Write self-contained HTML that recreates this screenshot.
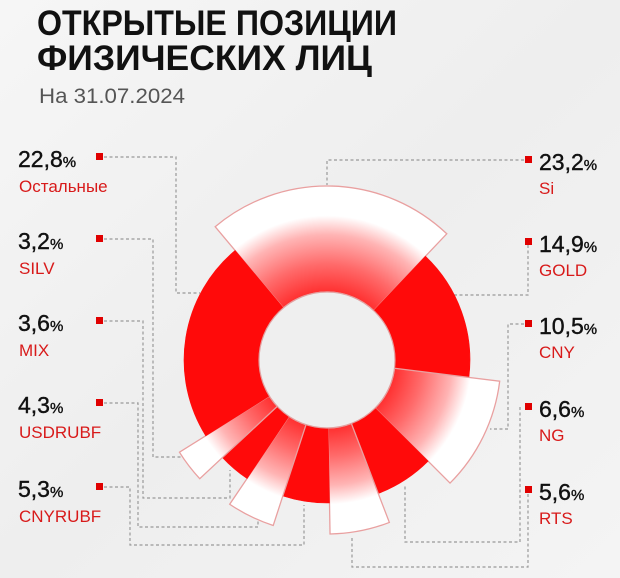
<!DOCTYPE html>
<html><head><meta charset="utf-8"><style>
html,body{margin:0;padding:0;width:620px;height:578px;overflow:hidden;background:#f3f3f3;}
svg{display:block;font-family:"Liberation Sans","DejaVu Sans",sans-serif;}
</style></head><body>
<svg id="s" width="620" height="578" viewBox="0 0 620 578">
<defs>
<linearGradient id="bg" x1="0" y1="0" x2="1" y2="1"><stop offset="0" stop-color="#f6f6f6"/><stop offset="0.5" stop-color="#eeeeee"/><stop offset="1" stop-color="#f4f4f4"/></linearGradient>
<radialGradient id="fade" gradientUnits="userSpaceOnUse" cx="327" cy="360" r="174">
<stop offset="0.39" stop-color="#ff3030"/>
<stop offset="0.55" stop-color="#ff6a6a"/>
<stop offset="0.72" stop-color="#ffb4b4"/>
<stop offset="0.83" stop-color="#ffffff"/>
<stop offset="1" stop-color="#ffffff"/>
</radialGradient>
</defs>
<rect width="620" height="578" fill="url(#bg)"/>
<text x="37" y="35" font-size="35" font-weight="bold" fill="#111" textLength="360" lengthAdjust="spacingAndGlyphs">ОТКРЫТЫЕ ПОЗИЦИИ</text>
<text x="37" y="70" font-size="35" font-weight="bold" fill="#111" textLength="335" lengthAdjust="spacingAndGlyphs">ФИЗИЧЕСКИХ ЛИЦ</text>
<text x="39" y="103" font-size="21" fill="#555" textLength="146" lengthAdjust="spacingAndGlyphs">На 31.07.2024</text>
<g id="lines" fill="none" stroke="#999" stroke-width="1.2" stroke-dasharray="3,2.5">
<polyline points="104,157 176,157 176,293 200,293"/>
<polyline points="104,239 153,239 153,457 185,457"/>
<polyline points="104,321 143,321 143,498 230,498 230,470"/>
<polyline points="104,403 138,403 138,527 258,527 258,510"/>
<polyline points="104,487 130,487 130,545 304,545 304,505"/>
<polyline points="524,160 327,160 327,185"/>
<polyline points="528,245 528,295 450,295"/>
<polyline points="524,324 508,324 508,429 490,429"/>
<polyline points="520,407 520,542 405,542 405,485"/>
<polyline points="528,494 528,567 352,567 352,537"/>
</g>
<g id="chart"></g>
<g fill="#e00000">
<rect x="96" y="153" width="7" height="7"/><rect x="96" y="235" width="7" height="7"/><rect x="96" y="317" width="7" height="7"/><rect x="96" y="399" width="7" height="7"/><rect x="96" y="483" width="7" height="7"/>
<rect x="525" y="156" width="7" height="7"/><rect x="525" y="238" width="7" height="7"/><rect x="525" y="320" width="7" height="7"/><rect x="525" y="403" width="7" height="7"/><rect x="525" y="486" width="7" height="7"/>
</g>
<g font-size="23" fill="#111" stroke="#111" stroke-width="0.4">
<text x="18" y="167">22,8<tspan font-size="15">%</tspan></text>
<text x="18" y="249">3,2<tspan font-size="15">%</tspan></text>
<text x="18" y="331">3,6<tspan font-size="15">%</tspan></text>
<text x="18" y="413">4,3<tspan font-size="15">%</tspan></text>
<text x="18" y="497">5,3<tspan font-size="15">%</tspan></text>
<text x="539" y="170">23,2<tspan font-size="15">%</tspan></text>
<text x="539" y="252">14,9<tspan font-size="15">%</tspan></text>
<text x="539" y="334">10,5<tspan font-size="15">%</tspan></text>
<text x="539" y="417">6,6<tspan font-size="15">%</tspan></text>
<text x="539" y="500">5,6<tspan font-size="15">%</tspan></text>
</g>
<g font-size="17" fill="#d81a1a">
<text x="19" y="192">Остальные</text>
<text x="19" y="274">SILV</text>
<text x="19" y="356">MIX</text>
<text x="19" y="438">USDRUBF</text>
<text x="19" y="522">CNYRUBF</text>
<text x="539" y="194">Si</text>
<text x="539" y="276">GOLD</text>
<text x="539" y="358">CNY</text>
<text x="539" y="441">NG</text>
<text x="539" y="524">RTS</text>
</g>
</svg>
<script>
var cx=327,cy=360,ri=68,ro=143,re=174;
var segs=[[-40,43.5,1],[43.5,97,0],[97,135,1],[135,159,0],[159,179,1],[179,198,0],[198,214,1],[214,227,0],[227,238,1],[238,320,0]];
function pt(r,a){a=a*Math.PI/180;return (cx+r*Math.sin(a)).toFixed(2)+","+(cy-r*Math.cos(a)).toFixed(2);}
var g=document.getElementById("chart"),h="";
segs.forEach(function(s){var R=s[2]?re:ro,l=(s[1]-s[0])>180?1:0;
var d="M"+pt(ri,s[0])+" L"+pt(R,s[0])+" A"+R+","+R+" 0 "+l+" 1 "+pt(R,s[1])+" L"+pt(ri,s[1])+" A"+ri+","+ri+" 0 "+l+" 0 "+pt(ri,s[0])+"Z";
h+=s[2]?'<path d="'+d+'" fill="url(#fade)" stroke="#e9a0a0" stroke-width="1.3"/>':'<path d="'+d+'" fill="#ff0a0a" stroke="#ff0a0a" stroke-width="0.6"/>';});
h+='<circle cx="'+cx+'" cy="'+cy+'" r="'+ri+'" fill="#efefef" stroke="#e3a0a0" stroke-width="1.2"/>';
g.innerHTML=h;
</script>
</body></html>
